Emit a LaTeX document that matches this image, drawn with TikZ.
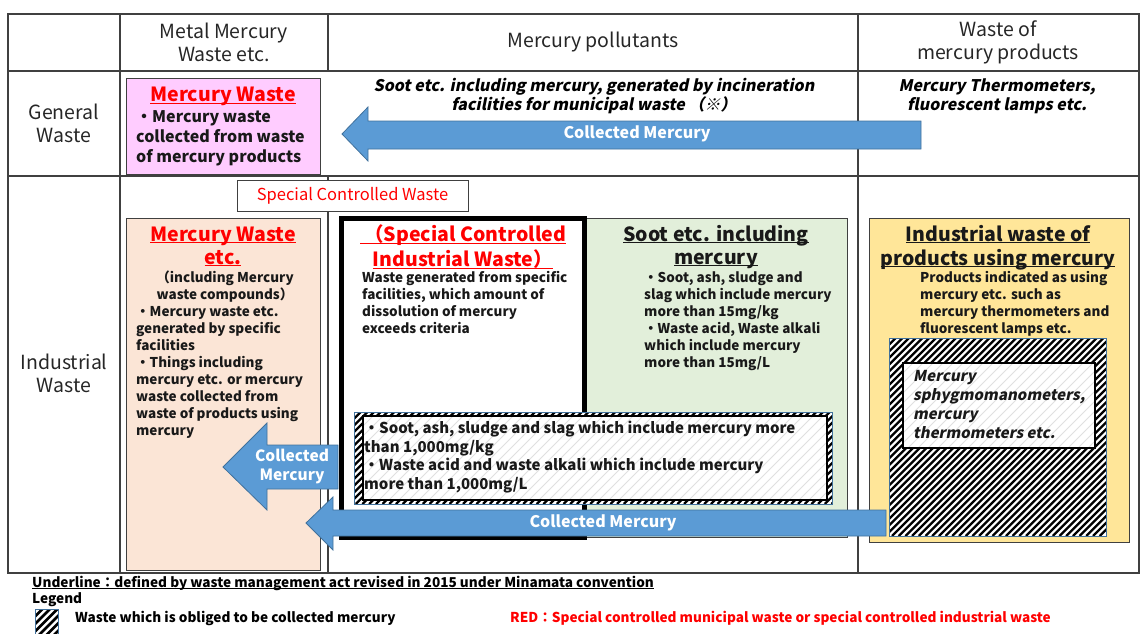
\documentclass[tikz,border=0pt]{standalone}
\usepackage{fontspec}
\setmainfont{Noto Sans CJK JP}
\newfontfamily\jpit{Noto Sans CJK JP}[FakeSlant=0.2]
\definecolor{pinkc}{HTML}{FFCCFF}
\definecolor{peachc}{HTML}{FBE5D6}
\definecolor{greenc}{HTML}{E2EFDA}
\definecolor{yellowc}{HTML}{FFE699}
\definecolor{arrfill}{HTML}{5B9BD5}
\definecolor{arrline}{HTML}{41719C}
\definecolor{redc}{HTML}{FF0000}
\definecolor{linec}{HTML}{404040}
\newcommand\fsz[2]{\fontsize{#1}{#2}\selectfont}
\newcommand\myul[1]{\leavevmode\setbox0\hbox{#1}\rlap{\rule[-2.2pt]{\wd0}{1.1pt}}\box0}
% stripes "/" inside a rectangle: x1 y1(top) x2 y2(bottom) step style
\newcommand\stripebox[6]{%
  \begin{scope}
    \clip (#1,#2) rectangle (#3,#4);
    \pgfmathsetmacro\sbH{#4-#2}
    \pgfmathsetmacro\sbA{#1-\sbH}
    \pgfmathsetmacro\sbB{\sbA+#5}
    \foreach \xx in {\sbA,\sbB,...,#3} \draw[#6] (\xx,#4) -- ++(\sbH,-\sbH);
  \end{scope}}
\begin{document}
\begin{tikzpicture}[x=1pt,y=-1pt,
  tbl/.style={draw=linec, line width=1.4pt},
  boxline/.style={draw=linec, line width=1pt},
  hdr/.style={font=\fsz{19.5}{23}, align=center, inner sep=0, text=black!85},
  ttl/.style={font=\fsz{19.5}{23}\bfseries, align=center, inner sep=0},
  body/.style={font=\fsz{13.5}{17}\bfseries, align=left, inner sep=0, text=black!90},
  itx/.style={font=\fsz{16}{19}\jpit\bfseries, align=center, inner sep=0},
  arr/.style={draw=arrline, line width=0.8pt, fill=arrfill},
  arrtxt/.style={font=\fsz{16}{19}\bfseries, text=white, align=center, inner sep=0},
  darkstripe/.style={black, line width=2.3pt},
  faintstripe/.style={black!12, line width=1pt},
  hatchedge/.style={draw=arrline, line width=0.6pt},
  inedge/.style={draw=black, line width=1.4pt},
  leg/.style={font=\fsz{13.6}{16}\bfseries, inner sep=0, anchor=west}
]
\useasboundingbox (0,0) rectangle (1141,634);
% table
\draw[tbl] (8,14) rectangle (1139,573);
\draw[tbl] (8,71) -- (1139,71);
\draw[tbl] (8,176) -- (1139,176);
\draw[tbl] (120,14) -- (120,573);
\draw[tbl] (328,14) -- (328,71);
\draw[tbl] (328,176) -- (328,573);
\draw[tbl] (858,14) -- (858,573);
% headers
\node[hdr] (h1) at (224,42) {Metal Mercury\\Waste etc.};
\node[hdr] (h2) at (593,42) {Mercury pollutants};
\node[hdr] (h3) at (998,42) {Waste of\\mercury products};
\node[hdr] (r1) at (64,123) {General\\Waste};
\node[hdr] (r2) at (64,373) {Industrial\\Waste};
% general row
\draw[boxline, fill=pinkc] (126,79) rectangle (320,174);
\node[ttl, text=redc, anchor=north] (mwg) at (223,85.7) {\strut\myul{Mercury Waste}};
\node[body, font=\fsz{16}{20}\bfseries, anchor=north west] (mwgt) at (136,108.6) {\strut・Mercury waste\\collected from waste\\of mercury products};
\node[itx] (soot1) at (594,96.5) {Soot etc. including mercury, generated by incineration\\facilities for municipal waste （※）};
\node[itx] (therm1) at (997,96.5) {Mercury Thermometers,\\fluorescent lamps etc.};
\draw[arr] (342,134) -- (368,107) -- (368,121) -- (921,121) -- (921,149) -- (368,149) -- (368,161) -- cycle;
\node[arrtxt] (cm1) at (637,134) {Collected Mercury};
% industrial row
\node[draw=linec, fill=white, line width=1pt, minimum width=231pt, minimum height=31pt, inner sep=0,
  font=\fsz{16.5}{19}, text=redc] (scw) at (352.5,195.5) {Special Controlled Waste};
% peach box
\draw[boxline, fill=peachc] (126,218) rectangle (320,570);
\node[ttl, text=redc, anchor=north] (mwi) at (223,224.7) {\strut\myul{Mercury Waste}\\\myul{etc.}};
\node[body, align=center, anchor=north] (mwi1) at (225,270.8) {\strut （including Mercury\\waste compounds）};
\node[body, anchor=north west] (mwi2) at (136,304.8) {\strut・Mercury waste etc.\\generated by specific\\facilities\\・Things including\\mercury etc. or mercury\\waste collected from\\waste of products using\\mercury};
% green box
\draw[boxline, fill=greenc] (585,218) rectangle (847,537);
\node[ttl, text=black!90, anchor=north] (soot2) at (716,224.7) {\strut\myul{Soot etc. including}\\\myul{mercury}};
\node[body, anchor=north west] (soot2t) at (644,270.8) {\strut・Soot, ash, sludge and\\slag which include mercury\\more than 15mg/kg\\・Waste acid, Waste alkali\\which include mercury\\more than 15mg/L};
% thick box
\draw[line width=5pt, fill=white] (341.5,218) rectangle (584.5,537);
\node[ttl, text=redc, anchor=north] (sciw) at (463,224.7) {\strut\myul{ （Special Controlled}\\\myul{Industrial Waste）}};
\node[body, anchor=north west] (sciwt) at (362,270.8) {\strut Waste generated from specific\\facilities, which amount of\\dissolution of mercury\\exceeds criteria};
% hatched box 1
\fill[white] (354,412) rectangle (832,504);
\stripebox{354}{412}{832}{504}{6.7}{darkstripe}
\draw[hatchedge] (354,412) rectangle (832,504);
\fill[white] (363,416) rectangle (827,500);
\stripebox{363}{416}{827}{500}{10}{faintstripe}
\draw[inedge] (363,416) rectangle (827,500);
\node[body, font=\fsz{15}{18.7}\bfseries, anchor=north west] (h1t) at (364,420.2) {\strut ・Soot, ash, sludge and slag which include mercury more\\than 1,000mg/kg\\ ・Waste acid and waste alkali which include mercury\\more than 1,000mg/L};
% yellow box
\draw[boxline, fill=yellowc] (869,218) rectangle (1129,542);
\node[ttl, text=black!90, anchor=north] (iwp) at (998,224.7) {\strut\myul{Industrial waste of}\\\myul{products using mercury}};
\node[body, anchor=north west] (iwpt) at (920,270.8) {\strut Products indicated as using\\mercury etc. such as\\mercury thermometers and\\fluorescent lamps etc.};
\fill[white] (889,338) rectangle (1106,536);
\stripebox{889}{338}{1106}{536}{6.7}{darkstripe}
\draw[hatchedge] (889,338) rectangle (1106,536);
\fill[white] (903,363) rectangle (1095,448);
\stripebox{903}{363}{1095}{448}{10}{faintstripe}
\draw[inedge] (903,363) rectangle (1095,448);
\node[body, font=\fsz{15}{19}\jpit\bfseries, anchor=north west] (sphy) at (913,368) {\strut Mercury\\sphygmomanometers,\\mercury\\thermometers etc.};
% arrows
\draw[arr] (223,467) -- (267,423) -- (267,445) -- (338,445) -- (338,489) -- (267,489) -- (267,510) -- cycle;
\node[arrtxt, font=\fsz{15.5}{19}\bfseries] (cm2) at (292,467) {Collected\\Mercury};
\draw[arr] (306,523) -- (333,497) -- (333,510) -- (886,510) -- (886,536) -- (333,536) -- (333,550) -- cycle;
\node[arrtxt] (cm3) at (603,523) {Collected Mercury};
% legend
\node[leg] (ul) at (32,583) {\myul{Underline：defined by waste management act revised in 2015 under Minamata convention}};
\node[leg] (lg) at (32,600) {Legend};
\fill[white] (35,609) rectangle (58,636);
\stripebox{35}{609}{58}{636}{7.5}{black, line width=2.8pt}
\draw[hatchedge] (35,609) rectangle (58,636);
\node[leg] (lg1) at (75,618) {Waste which is obliged to be collected mercury};
\node[leg, text=redc] (lg2) at (510,618) {RED：Special controlled municipal waste or special controlled industrial waste};
\end{tikzpicture}
\end{document}
